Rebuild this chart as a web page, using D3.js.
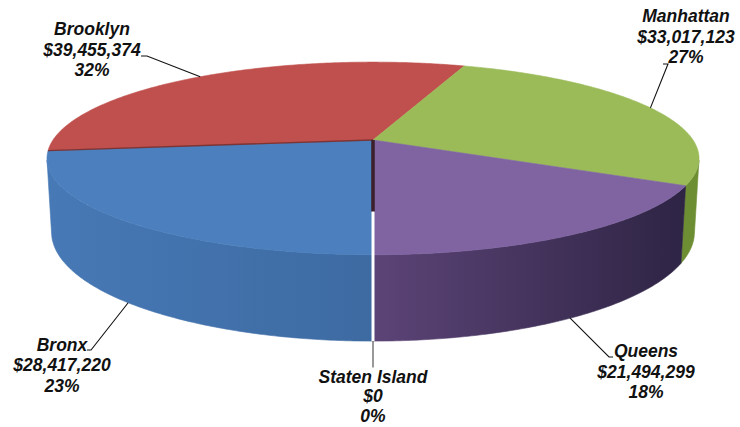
<!DOCTYPE html>
<html>
<head>
<meta charset="utf-8">
<script src="https://cdn.jsdelivr.net/npm/d3@7"></script>
<style>
  html, body { margin: 0; padding: 0; background: #ffffff; }
  svg { display: block; }
  text { font-family: "Liberation Sans", Arial, sans-serif; font-weight: bold; font-style: italic; font-size: 17.5px; fill: #111; }
</style>
</head>
<body>
<div id="chart"></div>
<script>
// ---- data ----
const categories = ["Bronx", "Brooklyn", "Manhattan", "Queens", "Staten Island"];
const values = [28417220, 39455374, 33017123, 21494299, 0];
const topColors = ["#4B7FBE", "#C0504D", "#9BBB59", "#8064A2", "#F79646"];
const wallColorsStart = ["#3D6AA1", "#8E3A38", "#6E8E34", "#2E2444", "#B56E30"];
const wallColorsEnd = ["#4779B6", "#8E3A38", "#6E8E34", "#5C4477", "#B56E30"];
// label layout: [center x, first baseline, line spacing]
const labelPos = [[62, 350.5, 20.5], [92, 35, 20.5], [686, 22, 20.5], [646, 357, 20.5], [373, 382.5, 19.6]];
// leader end near label (polyline points from label side)
const leaderEnds = [
  [[87, 350], [91, 350]],
  [[141, 56], [147, 56]],
  [[663, 64], [668, 64]],
  [[613, 357], [609, 357]],
  null
];

const W = 740, H = 427;
const svg = d3.select("#chart").append("svg").attr("width", W).attr("height", H);
const defs = svg.append("defs");

// ---- 3D perspective projection ----
const cx = 373, cy = 140;
const F = 1600, L = 5, R = 1, T = 0.237;
const sa = 0.29, ca = Math.sqrt(1 - sa * sa);
function proj(theta, r, h) {
  const X = r * Math.sin(theta), Z = -r * Math.cos(theta), Y = -h * T;
  const d = L - Y * sa - Z * ca;
  return [cx + F * X / d, cy - F * (Y * ca - Z * sa) / d];
}
function arcPts(a0, a1, h) {
  const n = Math.max(2, Math.ceil(Math.abs(a1 - a0) / 0.01));
  const pts = [];
  for (let i = 0; i <= n; i++) pts.push(proj(a0 + (a1 - a0) * i / n, R, h));
  return pts;
}

const total = d3.sum(values);
const pie = d3.pie().sort(null).startAngle(Math.PI).endAngle(3 * Math.PI);
const arcs = pie(values);
const line = d3.line();

// visible wall range
const vmin = Math.acos(-R / (L * ca));
const visRanges = [[vmin, 2 * Math.PI - vmin], [vmin + 2 * Math.PI, 4 * Math.PI - vmin]];

// walls
const wallG = svg.append("g");
arcs.forEach((a, i) => {
  if (a.endAngle - a.startAngle <= 0) return;
  visRanges.forEach((vr, k) => {
    const s = Math.max(a.startAngle, vr[0]), e = Math.min(a.endAngle, vr[1]);
    if (e <= s) return;
    const gid = "wg" + i + "_" + k;
    const g = defs.append("linearGradient").attr("id", gid)
      .attr("gradientUnits", "userSpaceOnUse")
      .attr("x1", proj(s, R, 0)[0]).attr("y1", 0)
      .attr("x2", proj(e, R, 0)[0]).attr("y2", 0);
    g.append("stop").attr("offset", 0).attr("stop-color", wallColorsStart[i]);
    g.append("stop").attr("offset", 1).attr("stop-color", wallColorsEnd[i]);
    const pts = arcPts(s, e, 0).concat(arcPts(e, s, 1));
    wallG.append("path").attr("d", line(pts) + "Z")
      .attr("fill", "url(#" + gid + ")")
      .attr("stroke", "url(#" + gid + ")").attr("stroke-width", 0.6);
  });
});

// top faces
const topG = svg.append("g");
arcs.forEach((a, i) => {
  if (a.endAngle - a.startAngle <= 0) return;
  const pts = [proj(0, 0, 0)].concat(arcPts(a.startAngle, a.endAngle, 0));
  topG.append("path").attr("d", line(pts) + "Z")
    .attr("fill", topColors[i]).attr("stroke", topColors[i]).attr("stroke-width", 0.6);
});

// dark seam between Bronx and Brooklyn
topG.append("path")
  .attr("d", line([proj(0, 0, 0), proj(arcs[0].endAngle, R, 0)]))
  .attr("stroke", "#6E2B2A").attr("stroke-width", 1.4).attr("opacity", 0.8);

// zero slice (Staten Island) edges
const zeroA = arcs[4].startAngle;
svg.append("path").attr("d", line([proj(0, 0, 0), proj(0, 0, 1)]))
  .attr("stroke", "#3B1F2B").attr("stroke-width", 3.5);
svg.append("path").attr("d", line([proj(0, 0, 1), proj(zeroA, R, 1)]))
  .attr("stroke", "#ffffff").attr("stroke-width", 3);

// leader lines
const fmtMoney = d3.format("$,.0f");
const leadG = svg.append("g");
arcs.forEach((a, i) => {
  const mid = (a.startAngle + a.endAngle) / 2;
  const inFront = Math.cos(mid) < -0.3;
  const rim = proj(mid, R, inFront ? 1 : 0);
  if (leaderEnds[i]) {
    const pts = leaderEnds[i].concat([rim]);
    leadG.append("path").attr("d", line(pts)).attr("fill", "none")
      .attr("stroke", "#111").attr("stroke-width", 1.1);
  } else {
    leadG.append("path").attr("d", line([rim, [rim[0], labelPos[i][1] - 15]]))
      .attr("stroke", "#7F7F7F").attr("stroke-width", 1.6);
  }
});

// labels
const labG = svg.append("g");
categories.forEach((c, i) => {
  const [x, y, sp] = labelPos[i];
  const pct = Math.round(values[i] / total * 100) + "%";
  const t = labG.append("text").attr("x", x).attr("y", y).attr("text-anchor", "middle");
  [c, fmtMoney(values[i]), pct].forEach((s, j) => {
    t.append("tspan").attr("x", x).attr("y", y + j * sp).text(s);
  });
});
</script>
</body>
</html>
